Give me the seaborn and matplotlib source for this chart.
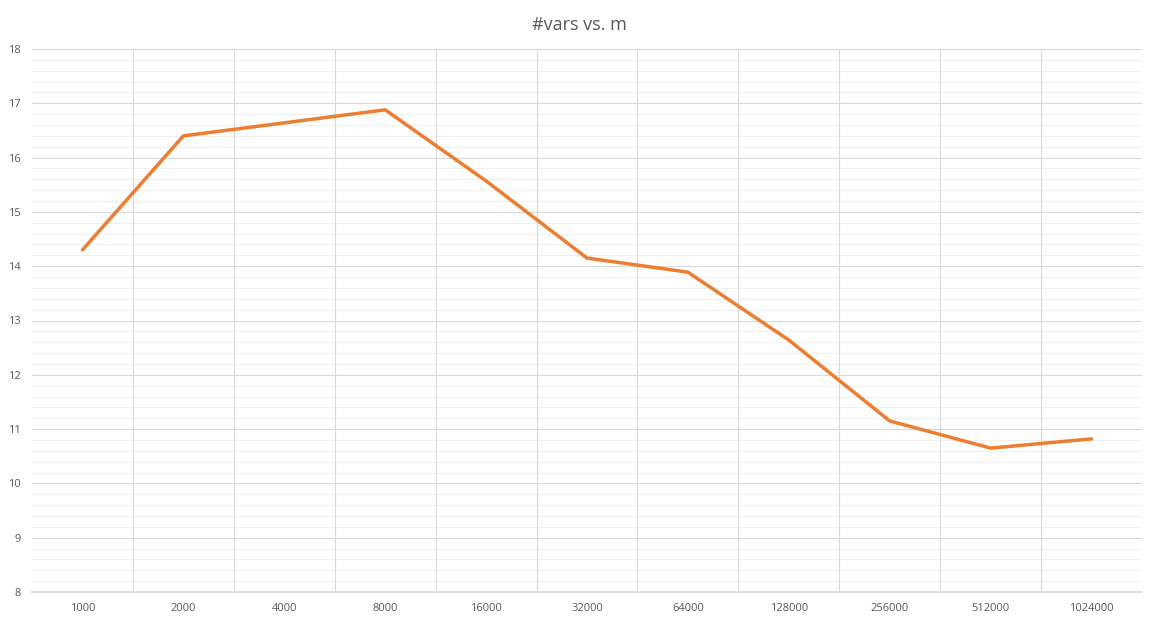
import numpy as np
import pandas as pd
import seaborn as sns
import matplotlib.pyplot as plt

categories = ["1000", "2000", "4000", "8000", "16000", "32000", "64000",
              "128000", "256000", "512000", "1024000"]
vars_values = [14.30, 16.40, 16.64, 16.88, 15.57, 14.15, 13.89, 12.64, 11.15, 10.65, 10.82]

df = pd.DataFrame({"pos": range(len(categories)), "vars": vars_values})

sns.set_theme(style="white")
plt.rcParams["font.family"] = ["Open Sans", "DejaVu Sans"]

fig = plt.figure(figsize=(11.58, 6.24), dpi=100)
ax = fig.add_axes([32 / 1158, 1 - 592 / 624, 1110 / 1158, 543 / 624])

# excel-like gridlines
for y in np.arange(8, 18.01, 0.2):
    major = abs(y - round(y)) < 1e-6
    ax.axhline(y, color="#d9d9d9" if major else "#f0f0f0", lw=0.8, zorder=0)
for x in np.arange(0.5, len(categories) - 1, 1.0):
    ax.axvline(x, color="#d9d9d9", lw=0.8, zorder=0)

sns.lineplot(data=df, x="pos", y="vars", ax=ax, color="#ed7d31", lw=2.5)

ax.set_xlim(-0.5, len(categories) - 0.5)
ax.set_ylim(8, 18)
ax.set_xticks(range(len(categories)))
ax.set_xticklabels(categories)
ax.set_yticks(range(8, 19))
ax.tick_params(axis="both", labelsize=8, colors="#595959", length=0, pad=8)
ax.set_xlabel("")
ax.set_ylabel("")
for side in ["top", "right", "left"]:
    ax.spines[side].set_visible(False)
ax.spines["bottom"].set_color("#d9d9d9")
fig.suptitle("#vars vs. m", y=0.975, fontsize=13, color="#595959")

fig.savefig("out.png", dpi=100)
